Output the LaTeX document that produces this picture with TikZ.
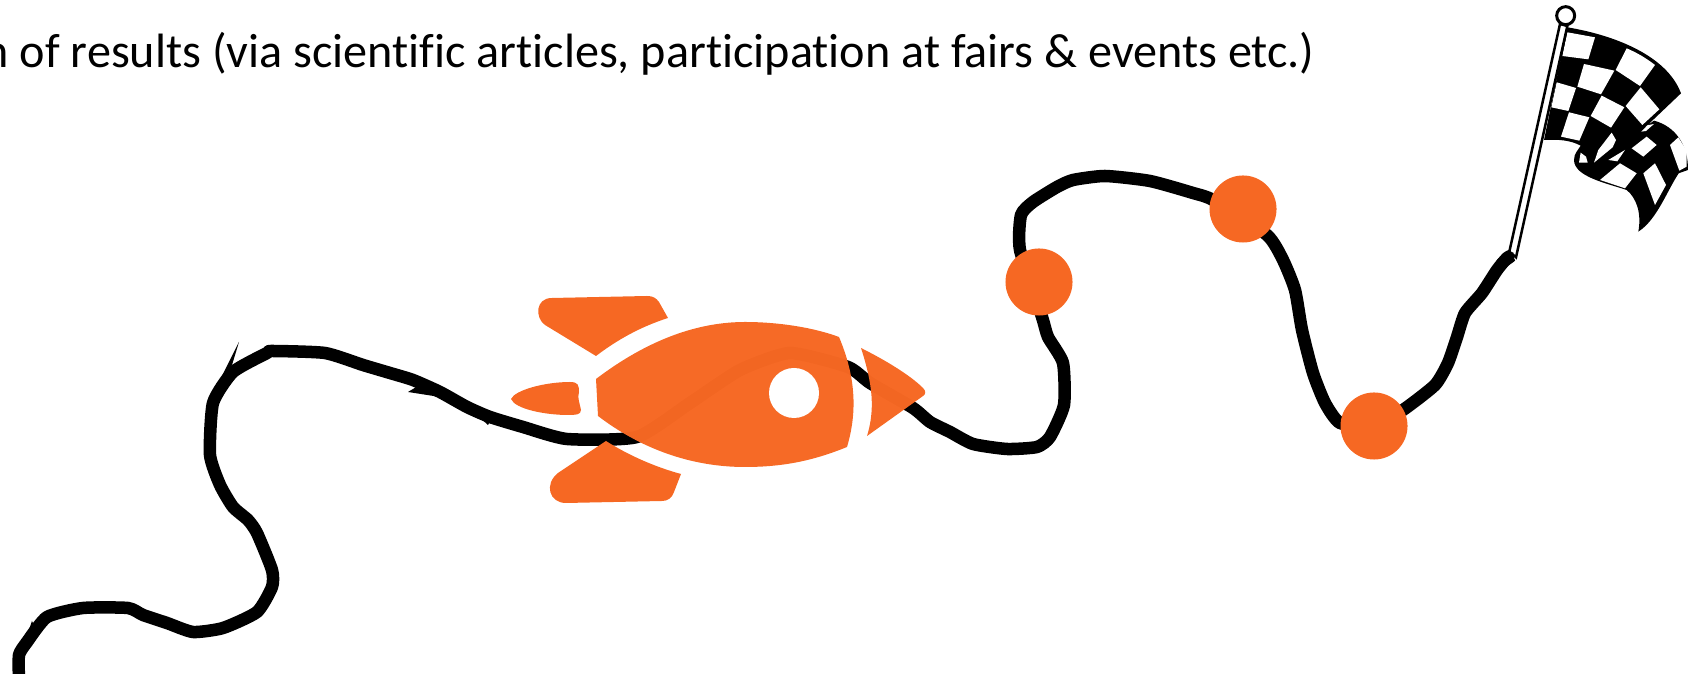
\documentclass[tikz,border=0pt]{standalone}
\usepackage{fontspec}
\setmainfont{Carlito}[Ligatures=NoCommon]
\definecolor{rocketorange}{HTML}{F66823}
\begin{document}
\begin{tikzpicture}[x=0.01cm, y=-0.01cm,
    every node/.style={font=\fontsize{13.7pt}{16pt}\selectfont},
    trail/.style={line width=0.125cm, line join=round, black},
    spike/.style={fill=black},
    hull/.style={fill=rocketorange, fill opacity=0.985},
    milestone/.style={circle, fill=rocketorange, inner sep=0pt, minimum size=0.67cm},
    check/.style={fill=white}]
  \useasboundingbox (0,0) rectangle (1688,674);

  \node[anchor=base west, inner sep=0pt] (results) at (-17,68) {n of results (via scientific articles, participation at fairs \& events etc.)};

  \draw[trail] plot[smooth, tension=0.35] coordinates {
    (19,680) (19,655) (27,642) (47,617) (83,608) (128,608) (143,615) (167,623) (193,632)
    (223,628) (257,612) (272,587) (272,570) (257,533) (248,520) (233,507) (220,485)
    (210,455) (213,403) (233,372) (267,353) (272,351) (325,353) (363,365) (390,373)
    (413,380) (440,392) (467,407) (490,417) (523,427) (567,439) (637,437) (690,403)
    (740,370) (790,353) (848,367) (870,383) (913,408) (930,422) (950,432) (973,444)
    (1007,449) (1037,447) (1050,437) (1064,405) (1063,363) (1048,337) (1042,317) (1020,250)
    (1021,215) (1033,202) (1057,187) (1073,180) (1105,176) (1150,181) (1193,193) (1213,200)
    (1267,235) (1283,260) (1295,290) (1302,330) (1313,373) (1325,403) (1340,423) (1374,426)
    (1403,410) (1435,385) (1448,363) (1457,337) (1465,313) (1482,293) (1497,270) (1507,258) (1513,255)};

  \fill[spike] (32,621) -- (25,642) -- (37,632) -- cycle;
  \fill[spike] (239,342) -- (220,380) -- (232,365) -- cycle;
  \fill[spike] (408,392) -- (423,383) -- (440,397) -- cycle;
  \fill[spike] (488,425) -- (477,415) -- (492,417) -- cycle;

  \fill[hull] (596,379) .. controls (650,338) and (700,322) .. (745,322)
    .. controls (780,322) and (815,328) .. (839,337)
    .. controls (855,375) and (858,410) .. (847,447)
    .. controls (815,460) and (785,467) .. (745,467)
    .. controls (690,467) and (640,448) .. (598,416) -- cycle;
  \fill[hull] (861,348) .. controls (885,360) and (910,375) .. (923,388)
    .. controls (926,391) and (926,394) .. (923,396) -- (867,436)
    .. controls (875,410) and (873,385) .. (861,348) -- cycle;
  \fill[rocketorange] (668,318) .. controls (640,327) and (617,340) .. (596,356)
    -- (545,325) .. controls (535,318) and (535,298) .. (552,298)
    -- (647,296) .. controls (653,296) and (656,298) .. (659,302) -- cycle;
  \fill[rocketorange] (606,441) .. controls (628,455) and (655,467) .. (681,474)
    -- (674,492) .. controls (672,498) and (668,501) .. (662,501)
    -- (566,503) .. controls (549,503) and (544,484) .. (558,473) -- cycle;
  \fill[rocketorange] (511,399) .. controls (515,390) and (545,382) .. (570,382)
    .. controls (578,382) and (579,385) .. (579,392)
    .. controls (577,398) and (580,404) .. (581,410)
    .. controls (581,415) and (575,415) .. (568,415)
    .. controls (545,415) and (515,409) .. (511,399) -- cycle;
  \fill[white] (794,393) circle [radius=25];

  \foreach \name/\x/\y in {mileA/1039/282, mileB/1243/209, mileC/1374/426} {
    \node[milestone] (\name) at (\x,\y) {};
  }

  \begin{scope}[shift={(1480,0)}, scale=0.3333]
    \fill[black] (262,82) .. controls (400,105) and (560,165) .. (603,280)
      -- (500,378) -- (522,362) .. controls (590,380) and (625,440) .. (624,510)
      -- (596,520) .. controls (560,575) and (530,660) .. (475,695)
      .. controls (485,640) and (470,595) .. (440,570)
      .. controls (380,550) and (282,530) .. (282,480)
      .. controls (282,460) and (295,450) .. (302,437)
      .. controls (270,420) and (235,418) .. (192,420) -- cycle;
    \fill[check] (262,97) -- (345,112) -- (325,178) -- (247,168) -- cycle;
    \fill[check] (440,145) .. controls (470,158) and (495,172) .. (525,195) -- (480,258) -- (407,210) -- cycle;
    \fill[check] (312,192) -- (403,212) -- (363,283) -- (292,260) -- cycle;
    \fill[check] (482,262) -- (538,328) -- (487,375) -- (437,318) -- cycle;
    \fill[check] (230,247) -- (288,264) -- (265,333) -- (214,322) -- cycle;
    \fill[check] (365,287) -- (433,322) -- (393,383) -- (332,348) -- cycle;
    \fill[check] (267,337) -- (328,352) -- (298,422) -- (243,410) -- cycle;
    \fill[check] (395,398) -- (408,420) -- (398,442) -- (342,488) -- (355,450) -- cycle;
    \fill[check] (302,458) -- (318,470) -- (323,488) -- (297,488) -- cycle;
    \fill[check] (502,376) -- (522,372) -- (498,393) -- (484,395) -- cycle;
    \fill[check] (455,445) -- (500,410) -- (530,435) -- (490,470) -- cycle;
    \fill[check] (570,435) -- (595,412) -- (620,452) -- (620,500) -- (598,512) -- cycle;
    \fill[check] (360,540) -- (420,490) -- (470,520) -- (435,565) -- cycle;
    \fill[check] (490,520) -- (525,490) -- (558,555) -- (525,615) -- cycle;
    \fill[check] (385,480) -- (435,450) -- (412,484) -- cycle;
    \draw[fill=white, line width=0.025cm] (240,72) -- (262,78) -- (108,772) -- (88,755) -- cycle;
    \draw[fill=white, line width=0.03cm] (257,47) circle [radius=27];
    \fill[black] (100,757) .. controls (70,762) and (50,770) .. (45,795) -- (30,830) -- (60,815) -- (102,785) -- cycle;
  \end{scope}
\end{tikzpicture}
\end{document}
